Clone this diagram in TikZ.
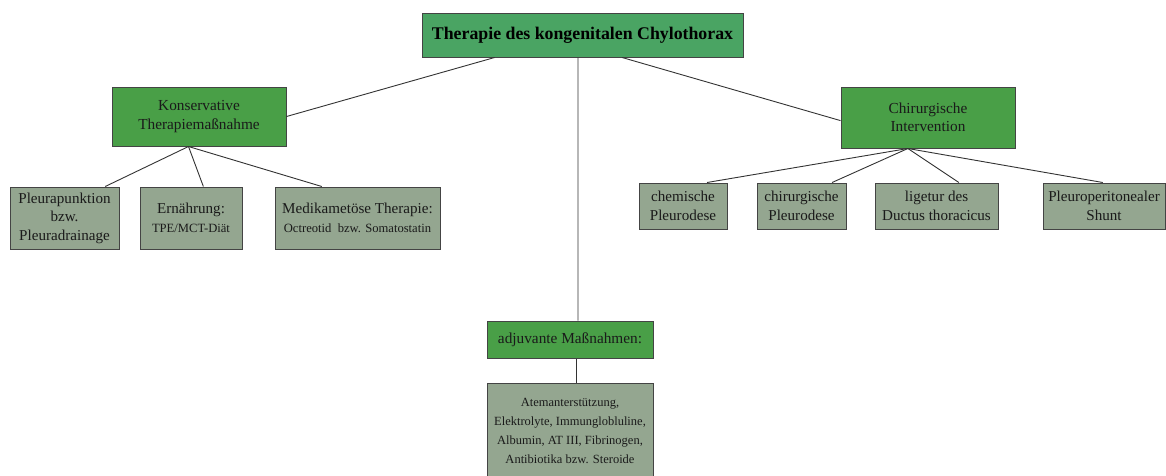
\documentclass[tikz,border=0pt]{standalone}
\usepackage{fontspec}
\setmainfont{Liberation Serif}
\usetikzlibrary{calc}
\definecolor{topgreen}{HTML}{4AA463}
\definecolor{midgreen}{HTML}{499F47}
\definecolor{leafgrey}{HTML}{94A690}
\definecolor{edgecol}{HTML}{444444}
\definecolor{linecol}{HTML}{333333}
\definecolor{txtcol}{HTML}{1A1A1A}
\tikzset{
  box/.style={draw=edgecol, line width=1pt, rectangle, inner sep=0pt, align=center, anchor=center, text=txtcol},
  topbox/.style={box, fill=topgreen, text=black, font=\fontsize{17.8}{20}\selectfont\bfseries},
  midbox/.style={box, fill=midgreen, font=\fontsize{15.3}{18.5}\selectfont},
  leafbox/.style={box, fill=leafgrey, font=\fontsize{15.1}{18.5}\selectfont},
  conn/.style={draw=linecol, line width=0.9pt}
}
\newcommand{\smalltxt}{\fontsize{12.6}{18.5}\selectfont}
\begin{document}
\begin{tikzpicture}[x=1pt,y=-1pt]
\useasboundingbox (0,0) rectangle (1166,475);
\fill[white] (0,0) rectangle (1166,475);
% nodes
\node[topbox, minimum width=321pt, minimum height=44pt] (top) at (582.5,35) {Therapie des kongenitalen Chylothorax};
\node[midbox, minimum width=174pt, minimum height=59pt] (kons) at (199,116.5) {Konservative\\Therapiemaßnahme};
\node[midbox, minimum width=174pt, minimum height=61pt] (chir) at (928,117.5) {Chirurgische\\Intervention};
\node[midbox, minimum width=166pt, minimum height=37pt] (adj) at (570,339.5) {adjuvante Maßnahmen:};
\node[leafbox, minimum width=166pt, minimum height=95pt, font=\fontsize{12.5}{19}\selectfont] (adjl) at (570,430.5) {Atemanterstützung,\\Elektrolyte, Immunglobluline,\\Albumin, AT III, Fibrinogen,\\Antibiotika bzw. Steroide};
\node[leafbox, minimum width=109pt, minimum height=62pt] (pleura) at (64.5,218) {Pleurapunktion\\bzw.\\Pleuradrainage};
\node[leafbox, minimum width=102pt, minimum height=62pt] (ern) at (191,218) {Ernährung:\\{\smalltxt TPE/MCT-Diät}};
\node[leafbox, minimum width=165pt, minimum height=62pt] (med) at (357.5,218) {Medikametöse Therapie:\\{\smalltxt Octreotid\ \ bzw. Somatostatin}};
\node[leafbox, minimum width=88pt, minimum height=46pt] (chem) at (683,206) {chemische\\Pleurodese};
\node[leafbox, minimum width=89pt, minimum height=46pt] (chirp) at (801.5,206) {chirurgische\\Pleurodese};
\node[leafbox, minimum width=123pt, minimum height=46pt] (lig) at (936.5,206) {ligetur des\\Ductus thoracicus};
\node[leafbox, minimum width=122pt, minimum height=46pt] (pleuro) at (1104,206) {Pleuroperitonealer\\Shunt};
% connectors
\draw[conn] ($(top.south west)!0.227!(top.south east)$) -- (kons.east);
\draw[conn] ($(top.south west)!0.623!(top.south east)$) -- ($(chir.north west)!0.55!(chir.south west)$);
\draw[conn] ($(top.south west)!0.486!(top.south east)$) -- ($(adj.north west)!0.548!(adj.north east)$);
\draw[conn] ($(adj.south west)!0.54!(adj.south east)$) -- ($(adjl.north west)!0.54!(adjl.north east)$);
\coordinate (ko) at ($(kons.south west)!0.44!(kons.south east)$);
\draw[conn] (ko) -- ($(pleura.north west)!0.87!(pleura.north east)$);
\draw[conn] (ko) -- ($(ern.north west)!0.62!(ern.north east)$);
\draw[conn] (ko) -- ($(med.north west)!0.285!(med.north east)$);
\coordinate (co) at ($(chir.south west)!0.385!(chir.south east)$);
\draw[conn] (co) -- ($(chem.north west)!0.77!(chem.north east)$);
\draw[conn] (co) -- ($(chirp.north west)!0.84!(chirp.north east)$);
\draw[conn] (co) -- ($(lig.north west)!0.68!(lig.north east)$);
\draw[conn] (co) -- ($(pleuro.north west)!0.49!(pleuro.north east)$);
\end{tikzpicture}
\end{document}
